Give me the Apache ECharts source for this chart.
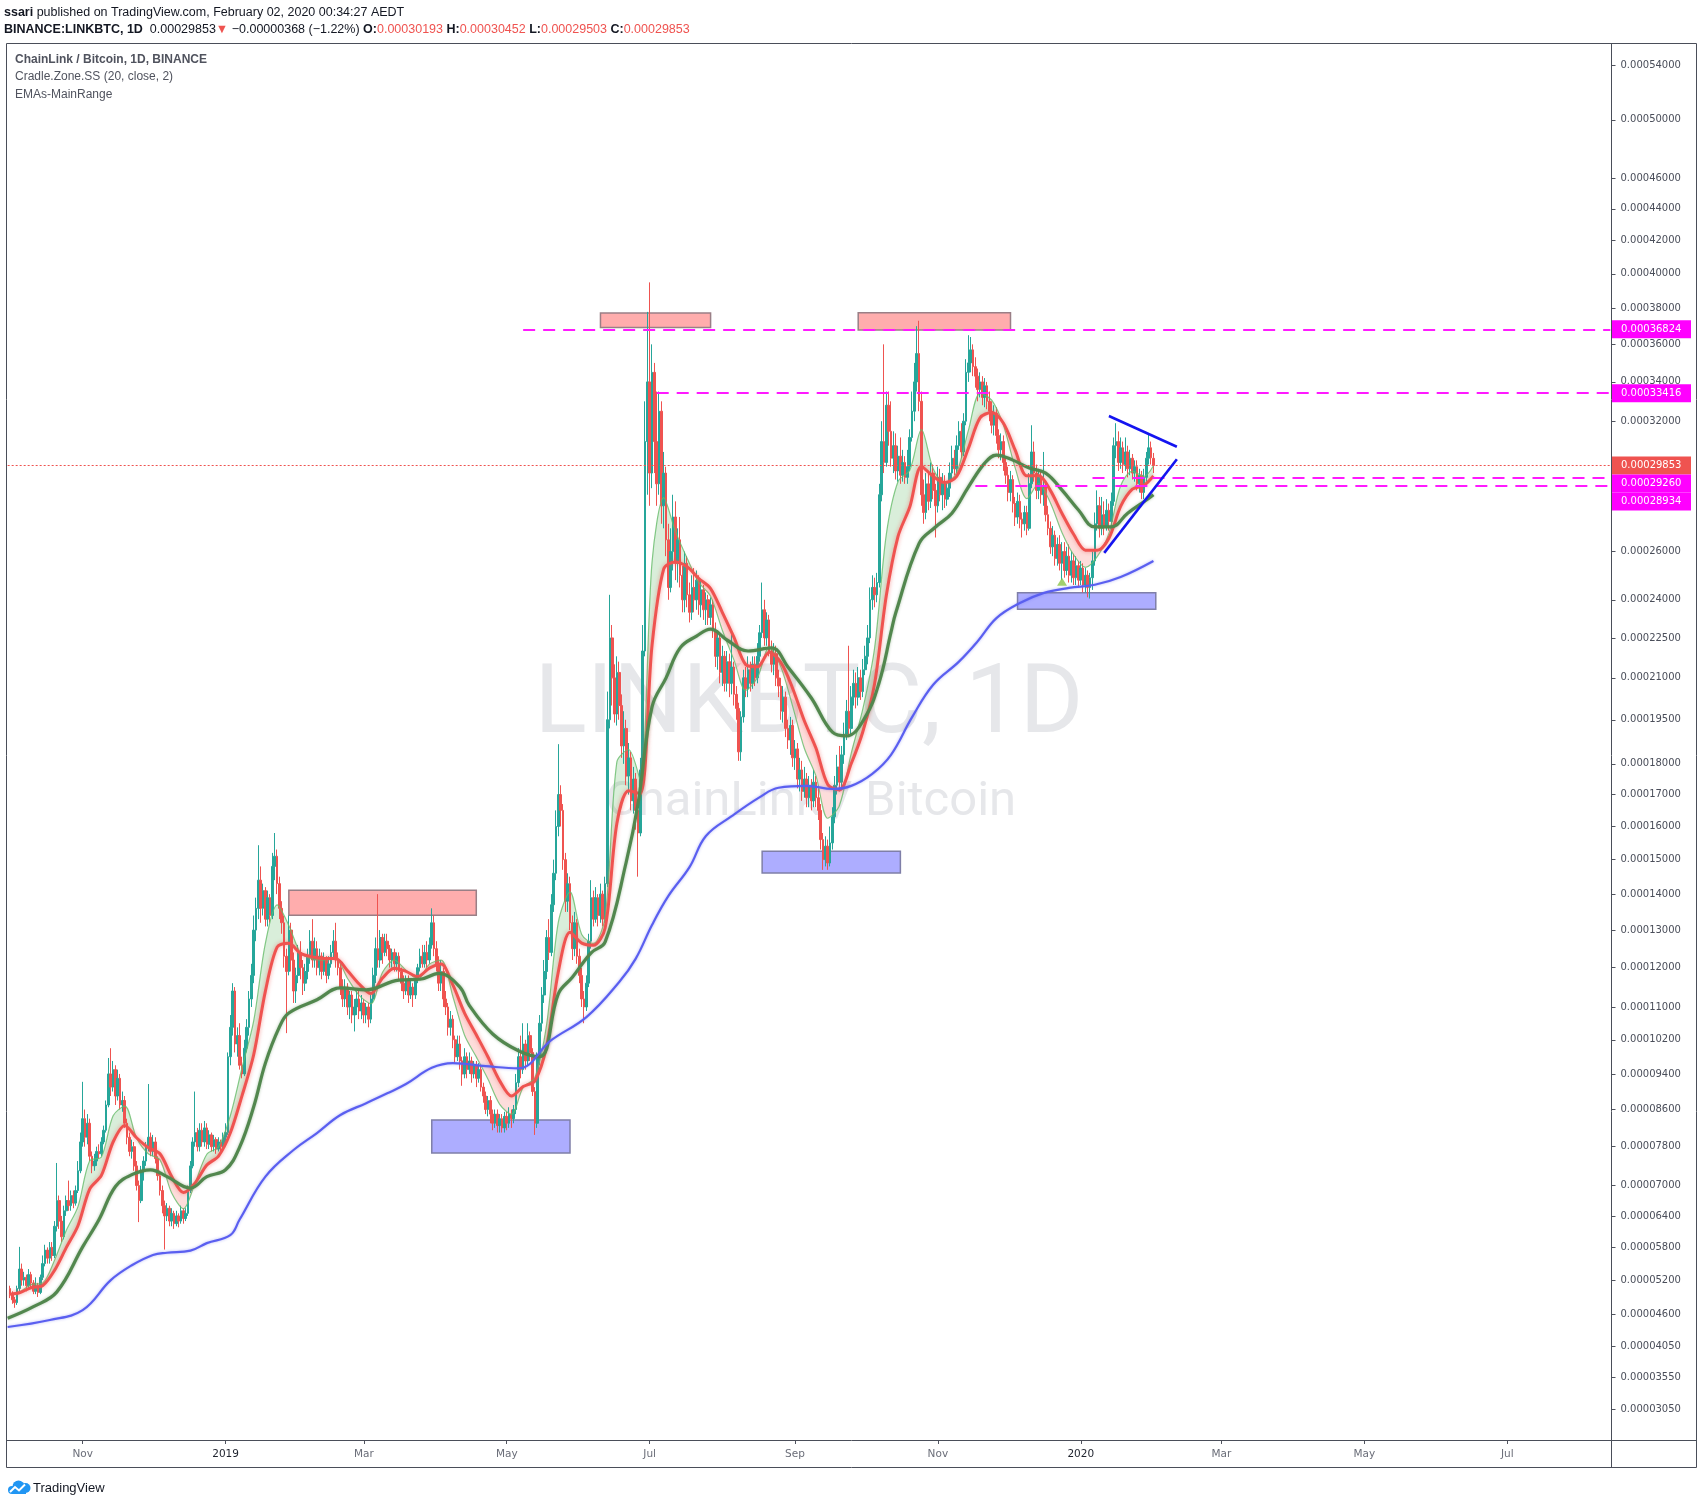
<!DOCTYPE html>
<html><head><meta charset="utf-8">
<script src="https://cdn.jsdelivr.net/npm/echarts@6/dist/echarts.min.js"></script>
<style>html,body{margin:0;padding:0;background:#fff}#c{width:1704px;height:1505px}</style>
</head><body><div id="c"></div>
<script>
// ---------- calendar (categories) ----------
const START = Date.UTC(2018, 8, 30);           // first (empty) category
const N_CATS = 685;                             // through 2020-08-14
const categories = [];
for (let i = 0; i < N_CATS; i++) categories.push(new Date(START + i * 86400000).toISOString().slice(0, 10));
const dayCat = d => categories[d + 1];          // d = days since 2018-10-01

const UNIT = 1e-8; // values below are in satoshi
// daily candles from 2018-10-01: [open, close, low, high]
const OHLC = [
[5050,4950,4880,5100],[4950,4850,4780,5000],[4850,4800,4710,4900],[4800,5050,4760,5100],[5050,5400,5000,5810],
[5400,5200,5100,5500],[5200,5250,5100,5350],[5250,5100,5000,5300],[5100,5300,5050,5400],[5300,5150,5050,5350],
[5150,5000,4950,5200],[5000,5100,4950,5250],[5100,4980,4900,5150],[4980,5250,4950,5300],[5250,5500,5200,5650],
[5500,5750,5450,5850],[5750,5600,5500,5800],[5600,5800,5500,5900],[5800,5650,5550,5900],[5650,6200,5600,6300],
[6200,6700,6100,7460],[6700,6300,6150,6800],[6300,6000,5900,6400],[6000,6500,5950,6600],[6500,6700,6400,6800],
[6700,6600,6500,7100],[6600,6800,6500,6900],[6800,6650,6550,6900],[6650,6900,6600,7000],[6900,7300,6850,7500],
[7300,7900,7250,8100],[7900,8400,7800,9220],[8400,8000,7800,8600],[8000,8300,7850,8500],[8300,7600,7500,8400],
[7600,7400,7250,7700],[7400,7500,7300,7650],[7500,7700,7400,7800],[7700,7650,7550,7850],[7650,7900,7600,8000],
[7900,8150,7850,8250],[8150,8700,8100,8800],[8700,9400,8650,9770],[9400,9100,8900,10000],[9100,9500,9000,9700],
[9500,8900,8700,9600],[8900,9300,8800,9500],[9300,8700,8600,9400],[8700,8800,8550,9000],[8800,8300,8200,8900],
[8300,8000,7850,8400],[8000,7700,7600,8100],[7700,7800,7550,7950],[7800,7400,7300,7900],[7400,7000,6900,7500],
[7000,6700,6280,7100],[6700,7300,6650,7400],[7300,7500,7100,7600],[7500,7800,7400,7900],[7800,8000,7700,9170],
[8000,7700,7600,8100],[7700,7900,7600,8050],[7900,7550,7450,8000],[7550,7200,7100,7600],[7200,6900,6800,7300],
[6900,6600,6450,7000],[6600,6400,5760,6700],[6400,6550,6300,6650],[6550,6300,6200,6600],[6300,6450,6200,6550],
[6450,6250,6150,6500],[6250,6400,6200,6500],[6400,6300,6180,6450],[6300,6500,6250,6600],[6500,6350,6250,6550],
[6350,6450,6300,6550],[6450,6900,6400,7000],[6900,7400,6850,7500],[7400,7900,7350,8000],[7900,8100,7800,9000],
[8100,7800,7700,8200],[7800,8150,7700,8300],[8150,7900,7800,8300],[7900,8200,7800,8350],[8200,7850,7750,8300],
[7850,8050,7750,8150],[8050,7800,7700,8100],[7800,7950,7700,8050],[7950,7750,7650,8000],[7750,7900,7700,8000],
[7900,7800,7700,7950],[7800,8000,7750,8100],[8000,8100,7900,8300],[8100,9800,8050,9900],[9800,10500,9600,10800],
[10500,11400,10300,11600],[11400,10100,9900,11500],[10100,10300,9800,10500],[10300,9600,9500,10600],[9600,9400,9300,9800],
[9400,10000,9350,10200],[10000,10500,9900,10700],[10500,11200,10300,11400],[11200,11800,11000,12100],[11800,13000,11600,13400],
[13000,13600,12700,13900],[13600,14400,13300,15430],[14400,13600,13200,14800],[13600,14100,13400,14300],[14100,13300,13100,14200],
[13300,13900,13100,14100],[13900,13400,13200,14000],[13400,14800,13300,15200],[14800,15100,14400,15800],[15100,14300,14000,15300],
[14300,13600,13300,14500],[13600,13200,12900,13800],[13200,12300,12000,13400],[12300,11900,10360,12500],[11900,13000,11800,13400],
[13000,12200,11900,13200],[12200,11400,11100,12400],[11400,11800,11100,12000],[11800,12400,11600,12600],[12400,12000,11700,12700],
[12000,11600,11300,12200],[11600,11900,11400,12100],[11900,12300,11700,12500],[12300,12700,12100,13000],[12700,12200,12000,13300],
[12200,12500,12000,12800],[12500,12000,11800,12700],[12000,12300,11800,12500],[12300,11900,11700,12400],[11900,12200,11800,12400],
[12200,11800,11600,12300],[11800,12100,11700,12300],[12100,12400,12000,12600],[12400,12700,12200,13000],[12700,12200,12000,13200],
[12200,12000,11800,12400],[12000,11500,11300,12100],[11500,11200,11000,11700],[11200,11500,11000,11700],[11500,11000,10800,11600],
[11000,11300,10700,11400],[11300,10800,10600,11400],[10800,11000,10400,11200],[11000,11200,10800,11400],[11200,10900,10700,11400],
[10900,11100,10700,11300],[11100,10800,10600,11200],[10800,11000,10600,11100],[11000,10700,10500,11100],[10700,11200,10600,11300],
[11200,11800,11100,12000],[11800,12500,11600,12800],[12500,12200,12000,14000],[12200,12800,12000,13000],[12800,12400,12100,12900],
[12400,12700,12300,12900],[12700,12500,12300,12900],[12500,12200,12000,12600],[12200,12400,12000,12500],[12400,12100,11900,12500],
[12100,12300,11900,12400],[12300,11900,11700,12400],[11900,11600,11400,12000],[11600,11400,11200,11800],[11400,11700,11300,11800],
[11700,11300,11100,11800],[11300,11500,11200,11700],[11500,11300,11000,11600],[11300,11700,11200,11800],[11700,12000,11600,12100],
[12000,12300,11900,12500],[12300,12100,12000,12600],[12100,12400,12000,12600],[12400,12200,12000,12700],[12200,12600,12100,12800],
[12600,13200,12500,13600],[13200,12500,12300,13400],[12500,12100,11900,12700],[12100,11600,11400,12300],[11600,11900,11400,12200],
[11900,11200,11000,12000],[11200,11000,10800,11400],[11000,10500,10300,11100],[10500,10700,10300,10900],[10700,10200,10000,10800],
[10200,9800,9650,10300],[9800,10100,9700,10300],[10100,9700,9500,10300],[9700,9400,9130,9800],[9400,9800,9300,10000],
[9800,9500,9300,9900],[9500,9700,9400,9900],[9700,9400,9200,9800],[9400,9600,9300,9700],[9600,9300,9100,9700],
[9300,9500,9200,9650],[9500,9100,9000,9600],[9100,8900,8750,9200],[8900,8600,8500,9000],[8600,8800,8450,8900],
[8800,8500,8300,8900],[8500,8300,8150,8600],[8300,8500,8200,8600],[8500,8250,8100,8600],[8250,8400,8100,8500],
[8400,8200,8100,8500],[8200,8450,8100,8550],[8450,8300,8150,8550],[8300,8500,8200,8650],[8500,8400,8200,8600],
[8400,8600,8300,8700],[8600,9200,8500,9400],[9200,9800,9100,10000],[9800,9500,9300,10300],[9500,10100,9400,10600],
[10100,9700,9500,10200],[9700,10300,9600,10600],[10300,9900,9700,10400],[9900,9000,8900,10000],[9000,8300,8050,9100],
[8300,9800,8200,9900],[9800,10600,9600,10800],[10600,11300,10400,11500],[11300,11900,11100,12200],[11900,12800,11700,13000],
[12800,12400,12200,13300],[12400,13700,12300,14000],[13700,14600,13500,15000],[14600,16000,14400,16500],[16000,17000,15700,18660],
[17000,16500,16000,17300],[16500,15000,14700,16700],[15000,13800,13500,15200],[13800,14300,13500,14600],[14300,13200,13000,14500],
[13200,12500,12200,13400],[12500,13200,12300,13500],[13200,12300,12100,13300],[12300,11800,11600,12500],[11800,11200,11000,12000],
[11200,11000,10600,11400],[11000,11600,10900,11800],[11600,12700,11500,12900],[12700,13900,12500,14400],[13900,13300,13100,14100],
[13300,13900,13200,14200],[13900,13400,13100,14000],[13400,14000,13200,14300],[14000,13300,13100,14100],[13300,14300,13200,14500],
[14300,19500,14200,20500],[19500,22500,19200,24200],[22500,21000,20000,23000],[21000,19700,19400,21500],[19700,21200,19300,21800],
[21200,20000,19500,21600],[20000,18600,18200,20400],[18600,19200,18000,19800],[19200,17600,17300,19500],[17600,18200,17000,18700],
[18200,16800,16500,18400],[16800,17500,16400,17900],[17500,16500,15900,17700],[16500,15800,14500,16800],[15800,17800,15700,18200],
[17800,22000,17600,23000],[22000,31000,21800,33000],[31000,34000,28500,37800],[34000,29500,28000,39500],[29500,34500,28800,36000],
[34500,31000,29500,35000],[31000,29000,28000,33500],[29000,32500,28500,33500],[32500,28000,27200,33000],[28000,29500,27000,30500],
[29500,26500,25800,29800],[26500,24500,24000,27200],[24500,26000,24300,27000],[26000,27500,25200,28500],[27500,25500,24800,28200],
[25500,26500,24700,27000],[26500,25000,24500,27500],[25000,24000,23500,25400],[24000,25500,23500,26000],[25500,24200,23700,25800],
[24200,23500,23100,24700],[23500,24500,23200,25000],[24500,24000,23500,25300],[24000,24800,23600,25200],[24800,23800,23400,25000],
[23800,24400,23300,24800],[24400,23600,23200,24600],[23600,24000,23000,24300],[24000,23300,23000,24200],[23300,23800,23000,24100],
[23800,22800,22500,24000],[22800,21800,21400,23100],[21800,22500,21300,22800],[22500,21200,20800,22700],[21200,21800,20700,22200],
[21800,20800,20500,22000],[20800,21600,20500,22000],[21600,20800,20300,21900],[20800,21400,20400,22800],[21400,20400,20000,21600],
[20400,19900,19500,20700],[19900,18400,18100,20100],[18400,19600,18100,19800],[19600,21000,19400,21300],[21000,20600,20300,21400],
[20600,21300,20300,21800],[21300,20800,20500,21600],[20800,21500,20600,21800],[21500,21000,20700,21800],[21000,21800,20800,22300],
[21800,22700,21600,23000],[22700,23600,22500,24700],[23600,22500,22200,24000],[22500,23200,22200,23500],[23200,22000,21800,23400],
[22000,21500,21200,22400],[21500,21900,21100,22300],[21900,21000,20700,22200],[21000,20700,20300,21300],[20700,19800,19500,21000],
[19800,20300,19400,20700],[20300,19200,18900,20500],[19200,18800,18500,19500],[18800,19300,18300,19600],[19300,18200,17900,19500],
[18200,18500,17800,18800],[18500,17500,17200,18700],[17500,17800,17100,18200],[17800,17100,16800,18100],[17100,17500,16900,17900],
[17500,16900,16600,17700],[16900,17300,16600,17600],[17300,16800,16500,17500],[16800,17400,16600,17800],[17400,16900,16600,17600],
[16900,16500,16200,17200],[16500,15600,15300,16700],[15600,15000,14700,15800],[15000,15400,14800,15700],[15400,14900,14700,15600],
[14900,15500,14800,16000],[15500,16300,15300,16600],[16300,17300,16100,17600],[17300,17900,17000,18300],[17900,17400,17100,18600],
[17400,18300,17200,18600],[18300,19000,18000,19400],[19000,19800,18800,20200],[19800,19200,18900,22200],[19200,20300,19000,20700],
[20300,20800,20000,21300],[20800,20300,19900,21200],[20300,21000,20000,21400],[21000,20500,20200,21300],[20500,21300,20300,21700],
[21300,21800,21100,22200],[21800,22500,21500,23000],[22500,24000,22300,24500],[24000,24500,23600,25000],[24500,24200,23700,24900],
[24200,24700,23900,25100],[24700,28500,24500,29000],[28500,31000,28200,32000],[31000,30000,29500,36000],[30000,32800,29800,33500],
[32800,31500,30800,33500],[31500,30200,29800,33000],[30200,30800,29500,31500],[30800,29600,29200,31400],[29600,30300,29100,30800],
[30300,29400,29000,31200],[29400,30000,29100,30600],[30000,29300,29000,30300],[29300,29800,29000,30600],[29800,31200,29600,31600],
[31200,32500,31000,33500],[32500,34000,32000,35000],[34000,35500,33500,37000],[35500,33000,32500,37300],[33000,28500,28000,33500],
[28500,27700,27200,29200],[27700,29000,27400,29500],[29000,28200,27800,29600],[28200,29500,27900,30000],[29500,28700,28300,29900],
[28700,28000,26600,29000],[28000,29300,27700,29800],[29300,28500,28200,29700],[28500,29000,27800,29500],[29000,28300,27900,29400],
[28300,28800,28000,29100],[28800,29500,28400,30000],[29500,30200,29200,30800],[30200,29700,29400,30600],[29700,30800,29500,31300],
[30800,31500,30600,32000],[31500,30500,30200,31900],[30500,32000,30300,32400],[32000,34500,31800,35200],[34500,35000,34000,36500],
[35000,35700,34500,36400],[35700,34800,34300,36000],[34800,34300,33700,35300],[34300,33600,33000,34700],[33600,34000,33200,34500],
[34000,33200,32800,34300],[33200,33800,32700,34200],[33800,33000,32600,34000],[33000,32500,32000,33500],[32500,31800,31400,33000],
[31800,32400,31300,32800],[32400,31300,30900,32700],[31300,30600,30200,31600],[30600,31000,30100,31400],[31000,30000,29600,31300],
[30000,29400,29000,30300],[29400,28600,28200,29800],[28600,29200,28200,29600],[29200,28100,27700,29400],[28100,27500,27100,28400],
[27500,28200,27200,28600],[28200,27400,27000,28500],[27400,27200,26600,27700],[27200,27700,26900,28000],[27700,27000,26700,28000],
[27000,29000,26900,29500],[29000,30500,28800,31800],[30500,29500,29100,31000],[29500,28700,28300,29900],[28700,29300,28300,29700],
[29300,28500,28100,29600],[28500,28900,28000,30500],[28900,27600,27300,29100],[27600,27000,26700,28000],[27000,26200,25900,27300],
[26200,26700,25800,27100],[26700,25700,25400,26900],[25700,26300,25400,26600],[26300,25500,25200,26700],[25500,26000,24800,26400],
[26000,25200,24900,26400],[25200,25800,25000,26200],[25800,25000,24700,26300],[25000,25600,24700,26000],[25600,24900,24600,25900],
[24900,25400,24600,25800],[25400,24800,24500,25600],[24800,25300,24600,25600],[25300,24600,24300,25500],[24600,25000,24300,25300],
[25000,24500,24100,25200],[24500,24900,24050,25100],[24900,25600,24400,26000],[25600,27200,25400,27700],[27200,28000,26900,28700],
[28000,27000,26600,28400],[27000,27600,26700,28400],[27600,27100,26700,28200],[27100,27800,26900,28300],[27800,27300,26900,28100],
[27300,28200,27000,28600],[28200,30800,28000,31200],[30800,31000,30200,31900],[31000,30000,29600,31500],[30000,30700,29700,31200],
[30700,29900,29500,31000],[29900,30500,29600,31200],[30500,29700,29300,30800],[29700,30200,29400,30600],[30200,29500,29200,30400],
[29500,29800,29100,30100],[29800,29000,28700,30100],[29000,29400,28600,29700],[29400,28600,28300,29600],[28600,29300,28300,29700],
[29300,30200,29100,30500],[30200,30700,29900,31400],[30700,30221,29900,31000],[30193,29853,29503,30452]
];

// Cradle zone lines (read every 5 days): slow (red) and fast (thin) averages, satoshi
const CRADLE_DAYS = [0,4,9,14,19,24,29,34,39,44,49,54,59,64,69,74,79,84,89,94,99,104,109,114,119,124,129,134,139,144,149,154,159,164,169,174,179,184,189,194,199,204,209,214,219,224,229,234,239,244,249,254,259,264,269,274,279,284,289,294,299,304,309,314,319,324,329,334,339,344,349,354,359,364,369,374,379,384,389,394,399,404,409,414,419,424,429,434,439,444,449,454,459,464,469,474,479,484,488];
const CRADLE_SLOW = [4950,4974,5063,5103,5377,5795,6210,6929,7205,7899,8253,7989,7781,7651,7183,6860,7053,7417,7603,8089,8903,9845,11399,12539,12642,12374,12282,12242,12241,11926,11578,11335,11730,11985,11904,11769,11986,12094,11554,10849,10319,9793,9242,8899,9112,9241,10042,11888,12938,12648,12590,13058,16093,17125,17029,22205,25268,25556,25353,24868,24456,23499,22517,21489,21407,21954,21571,20623,19466,18520,17325,17150,18003,19094,20786,24171,26650,27943,29813,29344,29059,29350,30667,32166,32439,31897,30586,29373,29384,28699,27654,26729,26057,26050,26565,27970,28752,28936,29366];
const CRADLE_FAST = [4950,4988,5122,5150,5562,6119,6582,7506,7585,8463,8677,7982,7651,7524,6849,6539,7053,7641,7799,8459,9537,10655,12649,13696,13128,12387,12230,12198,12225,11727,11291,11081,11879,12197,11933,11697,12092,12199,11261,10309,9796,9279,8715,8496,9094,9313,10560,13210,14066,12883,12640,13363,18065,18480,17466,25539,28367,26866,25708,24701,24142,22797,21658,20543,21010,22145,21406,19982,18523,17595,16254,16651,18343,19888,22115,26734,29109,29636,31579,29703,29016,29513,31534,33402,33058,31791,29743,28321,29005,28140,26809,25852,25325,25778,26781,28911,29576,29350,29841];

// EMAs-MainRange: mid (dark green) and long (blue), satoshi
const MID_DAYS = [-1,10,20,31,38,45,52,60,67,77,84,92,98,104,109,115,119,131,141,152,166,175,183,192,196,206,217,226,234,240,248,254,263,268,274,280,286,293,299,306,315,325,332,342,351,357,365,371,376,378,388,395,402,409,416,421,428,435,442,449,456,463,470,477,485,488];
const MID_EMA = [4530,4730,4990,5810,6330,6980,7220,7320,7180,6950,7180,7320,7790,8660,9650,10510,10850,11180,11480,11430,11680,11700,11850,11500,11040,10340,9940,9800,11330,11750,12390,12680,14930,16690,19950,21000,22120,22570,22840,22420,22000,22120,21400,20270,19070,18940,19590,20850,22720,23470,26350,27060,27670,28850,29970,30350,30110,29740,29500,28710,27810,27060,27060,27670,28260,28500];
const LONG_DAYS = [-1,17,31,43,52,61,67,77,84,94,98,109,121,131,141,152,161,169,180,189,203,217,231,246,260,267,274,281,290,297,308,320,328,340,351,359,368,376,385,394,405,413,421,431,441,452,463,474,488];
const LONG_EMA = [4380,4500,4670,5200,5470,5660,5700,5740,5880,6030,6330,7180,7730,8090,8480,8740,8960,9170,9540,9650,9580,9530,10190,10750,11630,12230,13140,13950,14780,15710,16320,16920,17220,17280,17180,17280,17670,18300,19590,20750,21600,22370,23270,23870,24270,24480,24610,24930,25600];

// price-axis labels (BTC)
const Y_TICKS = [0.00054,0.0005,0.00046,0.00044,0.00042,0.0004,0.00038,0.00036,0.00034,0.00032,0.0003,0.00028,0.00026,0.00024,0.000225,0.00021,0.000195,0.00018,0.00017,0.00016,0.00015,0.00014,0.00013,0.00012,0.00011,0.000102,0.000094,0.000086,0.000078,0.00007,0.000064,0.000058,0.000052,0.000046,0.0000405,0.0000355,0.0000305];
const Y_RANGE = [0.0000258, 0.0005563];
const LAST_PRICE = 0.00029853;
const LEVELS = [ {price:0.00036824, from:219}, {price:0.00033416, from:276}, {price:0.00029260, from:462}, {price:0.00028934, from:412} ];
const TAGS = [ {price:0.00036824, color:'#ff00ff'}, {price:0.00033416, color:'#ff00ff'}, {price:0.00029853, color:'#ef5350'}, {price:0.00029260, color:'#ff00ff'}, {price:0.00028934, color:'#ff00ff'} ];
// zones: [fromDay, toDay, top, bottom] in satoshi
const RED_ZONES = [ [119,199,14110,13410], [252,299,37740,36920], [362,427,37750,36780] ];
const BLUE_ZONES = [ [180,239,8370,7670], [321,380,15250,14610], [430,489,24280,23620] ];
// triangle trendlines: [day, satoshi] pairs
const TREND_UP = [[469,32260],[498,30750]];
const TREND_LO = [[467,25940],[498,30150]];
const SIGNAL = [[449,24730]];

// ---------- scale: TradingView log-like mapping ----------
const OFFSET = 0.0001;
const f = p => Math.log((p + OFFSET) * 1e5);
const inv = v => Math.exp(v) / 1e5 - OFFSET;
const fs = s => f(s * UNIT);

const candleData = OHLC.map((r, i) => [dayCat(i), fs(r[0]), fs(r[1]), fs(r[2]), fs(r[3])]);
const slowV = CRADLE_SLOW.map(fs), fastV = CRADLE_FAST.map(fs);
const baseData = CRADLE_DAYS.map((d, i) => [dayCat(d), Math.min(slowV[i], fastV[i])]);
const greenData = CRADLE_DAYS.map((d, i) => [dayCat(d), Math.max(fastV[i] - slowV[i], 0)]);
const redData = CRADLE_DAYS.map((d, i) => [dayCat(d), Math.max(slowV[i] - fastV[i], 0)]);

const MONTHS = ['Jan','Feb','Mar','Apr','May','Jun','Jul','Aug','Sep','Oct','Nov','Dec'];
const isLabelDay = (idx, val) => { const s = categories[idx]; const m = +s.slice(5,7); return s.slice(8) === '01' && m % 2 === 1; };

const AX = "'DejaVu Sans', sans-serif";
const HEAD = "'Liberation Sans', Arial, sans-serif";

const chart = echarts.init(document.getElementById('c'), null, {renderer: 'canvas'});
const lastCat = categories[N_CATS - 1];

const option = {
  animation: false,
  backgroundColor: '#ffffff',
  grid: { left: 6.5, right: 92.5, top: 44, bottom: 65, containLabel: false, outerBoundsMode: 'none' },
  xAxis: {
    type: 'category', data: categories, boundaryGap: true,
    axisLine: { show: false },
    axisTick: { show: true, interval: isLabelDay, alignWithLabel: true, length: 4, lineStyle: { color: '#50535e' } },
    axisLabel: {
      interval: isLabelDay, margin: 9, fontFamily: AX, fontSize: 10.5, color: '#6a6d78',
      formatter: v => { const m = +v.slice(5,7); return m === 1 ? '{y|' + v.slice(0,4) + '}' : '{m|' + MONTHS[m-1] + '}'; },
      rich: { y: { fontFamily: AX, fontSize: 10.5, color: '#1e222d' }, m: { fontFamily: AX, fontSize: 10.5, color: '#6a6d78' } }
    },
    splitLine: { show: false }
  },
  yAxis: {
    type: 'value', position: 'right', min: f(Y_RANGE[0]), max: f(Y_RANGE[1]), scale: true,
    axisLine: { show: false },
    axisTick: { show: true, customValues: Y_TICKS.map(f), length: 4, lineStyle: { color: '#50535e' } },
    axisLabel: { customValues: Y_TICKS.map(f), margin: 9, fontFamily: AX, fontSize: 10, color: '#4a4e5a', formatter: v => inv(v).toFixed(8) },
    splitLine: { show: false }
  },
  series: [
    { name: 'czBase', type: 'line', stack: 'cz', stackStrategy: 'all', data: baseData, showSymbol: false, smooth: 0.3, lineStyle: { opacity: 0 }, z: 1, silent: true },
    { name: 'czUp', type: 'line', stack: 'cz', stackStrategy: 'all', data: greenData, showSymbol: false, smooth: 0.3, lineStyle: { opacity: 0 }, areaStyle: { color: 'rgba(76,175,80,0.3)' }, z: 1, silent: true },
    { name: 'czDown', type: 'line', stack: 'cz', stackStrategy: 'all', data: redData, showSymbol: false, smooth: 0.3, lineStyle: { opacity: 0 }, areaStyle: { color: 'rgba(244,67,54,0.26)' }, z: 1, silent: true },
    {
      name: 'LINKBTC', type: 'candlestick', data: candleData, encode: { x: 0, y: [1, 2, 3, 4] }, barWidth: '92%', z: 2,
      itemStyle: { color: '#26a69a', color0: '#ef5350', borderColor: '#26a69a', borderColor0: '#ef5350', borderWidth: 1 },
      markArea: {
        silent: true,
        data: RED_ZONES.map(z => [{ coord: [dayCat(z[0]), fs(z[2])], itemStyle: { color: 'rgba(255,60,60,0.42)', borderColor: '#9a7f86', borderWidth: 1.5 } }, { coord: [dayCat(z[1]), fs(z[3])] }])
          .concat(BLUE_ZONES.map(z => [{ coord: [dayCat(z[0]), fs(z[2])], itemStyle: { color: 'rgba(60,60,255,0.42)', borderColor: '#7f7fa8', borderWidth: 1.5 } }, { coord: [dayCat(z[1]), fs(z[3])] }]))
      },
      markLine: {
        silent: true, symbol: ['none', 'none'], label: { show: false },
        data: [[{ coord: [categories[0], f(LAST_PRICE)], lineStyle: { color: '#ef5350', width: 1, type: [2, 2] } }, { coord: [lastCat, f(LAST_PRICE)] }]]
          .concat(LEVELS.map(l => [{ coord: [dayCat(l.from), f(l.price)], lineStyle: { color: '#ff1aff', width: 2.2, type: [12, 8] } }, { coord: [lastCat, f(l.price)] }]))
      }
    },
    { name: 'fast', type: 'line', data: CRADLE_DAYS.map((d, i) => [dayCat(d), fastV[i]]), showSymbol: false, smooth: 0.3, lineStyle: { color: 'rgba(102,187,106,0.8)', width: 1.2 }, z: 3, silent: true },
    { name: 'slow', type: 'line', data: CRADLE_DAYS.map((d, i) => [dayCat(d), slowV[i]]), showSymbol: false, smooth: 0.3, lineStyle: { color: '#ef5350', width: 3, shadowColor: 'rgba(239,83,80,0.55)', shadowBlur: 4 }, z: 4, silent: true },
    { name: 'mid', type: 'line', data: MID_DAYS.map((d, i) => [dayCat(d), fs(MID_EMA[i])]), showSymbol: false, smooth: 0.4, lineStyle: { color: '#52874e', width: 3.2, shadowColor: 'rgba(82,135,78,0.45)', shadowBlur: 3 }, z: 4, silent: true },
    { name: 'long', type: 'line', data: LONG_DAYS.map((d, i) => [dayCat(d), fs(LONG_EMA[i])]), showSymbol: false, smooth: 0.4, lineStyle: { color: '#5a5ff0', width: 2.2, shadowColor: 'rgba(90,95,240,0.45)', shadowBlur: 3 }, z: 4, silent: true },
    { name: 'trendUp', type: 'line', data: TREND_UP.map(p => [dayCat(p[0]), fs(p[1])]), showSymbol: false, lineStyle: { color: '#1414f0', width: 2.6 }, z: 5, silent: true },
    { name: 'trendLo', type: 'line', data: TREND_LO.map(p => [dayCat(p[0]), fs(p[1])]), showSymbol: false, lineStyle: { color: '#1414f0', width: 2.6 }, z: 5, silent: true },
    { name: 'signal', type: 'scatter', data: SIGNAL.map(p => [dayCat(p[0]), fs(p[1])]), symbol: 'triangle', symbolSize: [10, 8], itemStyle: { color: '#8bc34a' }, z: 5, silent: true }
  ],
  graphic: { elements: [
    { id: 'wm1', type: 'text', x: 809, y: 708, z: 0, silent: true, style: { text: 'LINKBTC, 1D', font: '97px Roboto, sans-serif', fill: '#e6e7ea', align: 'center', verticalAlign: 'middle' } },
    { id: 'wm2', type: 'text', x: 811, y: 803, z: 0, silent: true, style: { text: 'ChainLink / Bitcoin', font: '49px Roboto, sans-serif', fill: '#e6e7ea', align: 'center', verticalAlign: 'middle' } },
    { id: 'frame', type: 'rect', z: 60, silent: true, shape: { x: 6.5, y: 43.5, width: 1690, height: 1424 }, style: { fill: null, stroke: '#4a4e59', lineWidth: 1 } },
    { id: 'vline', type: 'line', z: 60, silent: true, shape: { x1: 1611.5, y1: 43.5, x2: 1611.5, y2: 1467.5 }, style: { stroke: '#4a4e59', lineWidth: 1 } },
    { id: 'hline', type: 'line', z: 60, silent: true, shape: { x1: 6.5, y1: 1440.5, x2: 1696.5, y2: 1440.5 }, style: { stroke: '#4a4e59', lineWidth: 1 } },
    { id: 'h1', type: 'text', x: 4, y: 13, z: 70, style: { text: '{b|ssari} published on TradingView.com, February 02, 2020 00:34:27 AEDT', font: '12.5px ' + HEAD, fill: '#131722', verticalAlign: 'middle', rich: { b: { font: 'bold 12.5px ' + HEAD, fill: '#131722' } } } },
    { id: 'h2', type: 'text', x: 4, y: 29.5, z: 70, style: {
      text: '{b|BINANCE:LINKBTC, 1D}  0.00029853{r|▼} −0.00000368 (−1.22%) {b|O:}{r|0.00030193} {b|H:}{r|0.00030452} {b|L:}{r|0.00029503} {b|C:}{r|0.00029853}',
      font: '12.5px ' + HEAD, fill: '#131722', verticalAlign: 'middle',
      rich: { b: { font: 'bold 12.5px ' + HEAD, fill: '#131722' }, r: { font: '12.5px ' + HEAD, fill: '#ef5350' } } } },
    { id: 'l1', type: 'text', x: 15, y: 60, z: 70, style: { text: 'ChainLink / Bitcoin, 1D, BINANCE', font: 'bold 12px ' + HEAD, fill: '#50535e', verticalAlign: 'middle' } },
    { id: 'l2', type: 'text', x: 15, y: 77, z: 70, style: { text: 'Cradle.Zone.SS (20, close, 2)', font: '12px ' + HEAD, fill: '#50535e', verticalAlign: 'middle' } },
    { id: 'l3', type: 'text', x: 15, y: 94.5, z: 70, style: { text: 'EMAs-MainRange', font: '12px ' + HEAD, fill: '#50535e', verticalAlign: 'middle' } },
    { id: 'logo', type: 'group', x: 6, y: 1479, z: 70, children: [
      { type: 'circle', shape: { cx: 6, cy: 11, r: 4 }, style: { fill: '#2196f3' } },
      { type: 'circle', shape: { cx: 12.5, cy: 7.5, r: 6 }, style: { fill: '#2196f3' } },
      { type: 'circle', shape: { cx: 19.5, cy: 9, r: 5 }, style: { fill: '#2196f3' } },
      { type: 'rect', shape: { x: 6, y: 9, width: 14, height: 6 }, style: { fill: '#2196f3' } },
      { type: 'polyline', shape: { points: [[4, 13], [9, 8], [13, 11.5], [19, 5.5]] }, style: { stroke: '#ffffff', lineWidth: 2, fill: null } }
    ] },
    { id: 'tvtext', type: 'text', x: 33, y: 1488, z: 70, style: { text: 'TradingView', font: '13px Liberation Sans, sans-serif', fill: '#131722', verticalAlign: 'middle' } }
  ] }
};
chart.setOption(option);

// price tags on the right scale (positions from the axis scale, stacked to avoid overlap)
const tagEls = [];
let prevY = -1e9;
TAGS.slice().sort((a, b) => b.price - a.price).forEach((t, i) => {
  let y = chart.convertToPixel({ yAxisIndex: 0 }, f(t.price));
  if (y < prevY + 18) y = prevY + 18;
  prevY = y;
  tagEls.push({ id: 'tagr' + i, type: 'rect', z: 80, silent: true, shape: { x: 1612, y: y - 9, width: 79, height: 18 }, style: { fill: t.color } });
  tagEls.push({ id: 'tagt' + i, type: 'text', z: 81, silent: true, x: 1621, y: y, style: { text: t.price.toFixed(8), font: '10px ' + AX, fill: '#ffffff', verticalAlign: 'middle' } });
});
chart.setOption({ graphic: { elements: tagEls } });
</script>
</body></html>
